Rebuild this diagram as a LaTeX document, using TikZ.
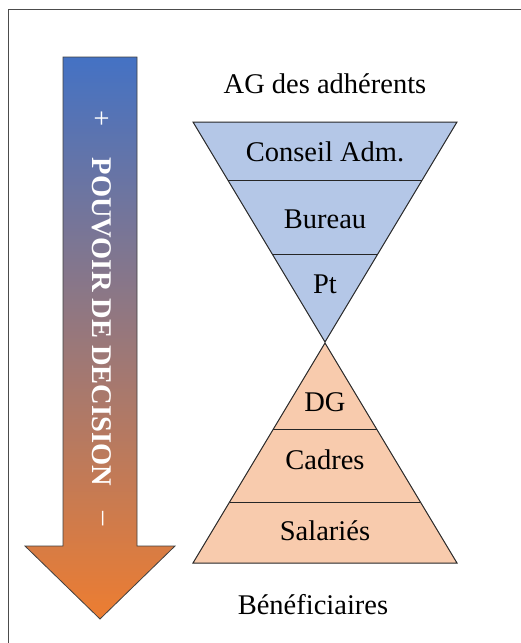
\documentclass[tikz,border=0pt]{standalone}
\usepackage{fontspec}
\setmainfont{Liberation Serif}
\usetikzlibrary{calc}

\definecolor{arrowblue}{RGB}{68,114,196}
\definecolor{arroworange}{RGB}{237,125,49}
\definecolor{topfill}{RGB}{180,199,231}
\definecolor{botfill}{RGB}{248,203,173}
\definecolor{edgegray}{RGB}{64,64,64}

\begin{document}
\begin{tikzpicture}[x=1pt, y=-1pt,
  layer/.style={draw=black!85, line width=1pt},
  lbl/.style={font=\fontsize{28.5}{34}\selectfont, anchor=base, inner sep=0pt},
  arrowtext/.style={text=white, rotate=-90, inner sep=0pt, font=\fontsize{28.5}{34}\selectfont}
]
\useasboundingbox (0,0) rectangle (521,643);
\draw[black!70, line width=1pt] (8,643) -- (8,9.5) -- (521,9.5);

% fleche du pouvoir de decision
\shade[top color=arrowblue, bottom color=arroworange, draw=edgegray, line width=0.8pt]
  (63,57) -- (137,57) -- (137,546) -- (175,546) -- (100,619) -- (25,546) -- (63,546) -- cycle;
\node[arrowtext] (plus) at (100.5,119) {+};
\node[arrowtext, font=\fontsize{28.5}{34}\selectfont\bfseries] (pouvoir) at (102,322) {POUVOIR DE DECISION};
\node[arrowtext] (minus) at (100,519) {--};

% pyramide du bas
\coordinate (la) at (325,343);
\coordinate (ll) at (193,563);
\coordinate (lr) at (457,563);
\filldraw[layer, fill=botfill] (ll) -- (lr) -- (la) -- cycle;
\draw[layer] ($(la)!0.391!(ll)$) -- ($(la)!0.391!(lr)$);
\draw[layer] ($(la)!0.723!(ll)$) -- ($(la)!0.723!(lr)$);

% pyramide du haut (inversee)
\coordinate (ul) at (193,122);
\coordinate (ur) at (457,122);
\coordinate (ua) at (325,342);
\filldraw[layer, fill=topfill] (ul) -- (ur) -- (ua) -- cycle;
\draw[layer] ($(ul)!0.268!(ua)$) -- ($(ur)!0.268!(ua)$);
\draw[layer] ($(ul)!0.6!(ua)$) -- ($(ur)!0.6!(ua)$);

\node[lbl] (ag) at (325,93.5) {AG des adhérents};
\node[lbl] (conseil) at (325,161.5) {Conseil Adm.};
\node[lbl] (bureau) at (325,228) {Bureau};
\node[lbl] (pt) at (325,293) {Pt};
\node[lbl] (dg) at (325,411) {DG};
\node[lbl] (cadres) at (325,469) {Cadres};
\node[lbl] (salaries) at (325,540.5) {Salariés};
\node[lbl] (benef) at (313,614) {Bénéficiaires};
\end{tikzpicture}
\end{document}
